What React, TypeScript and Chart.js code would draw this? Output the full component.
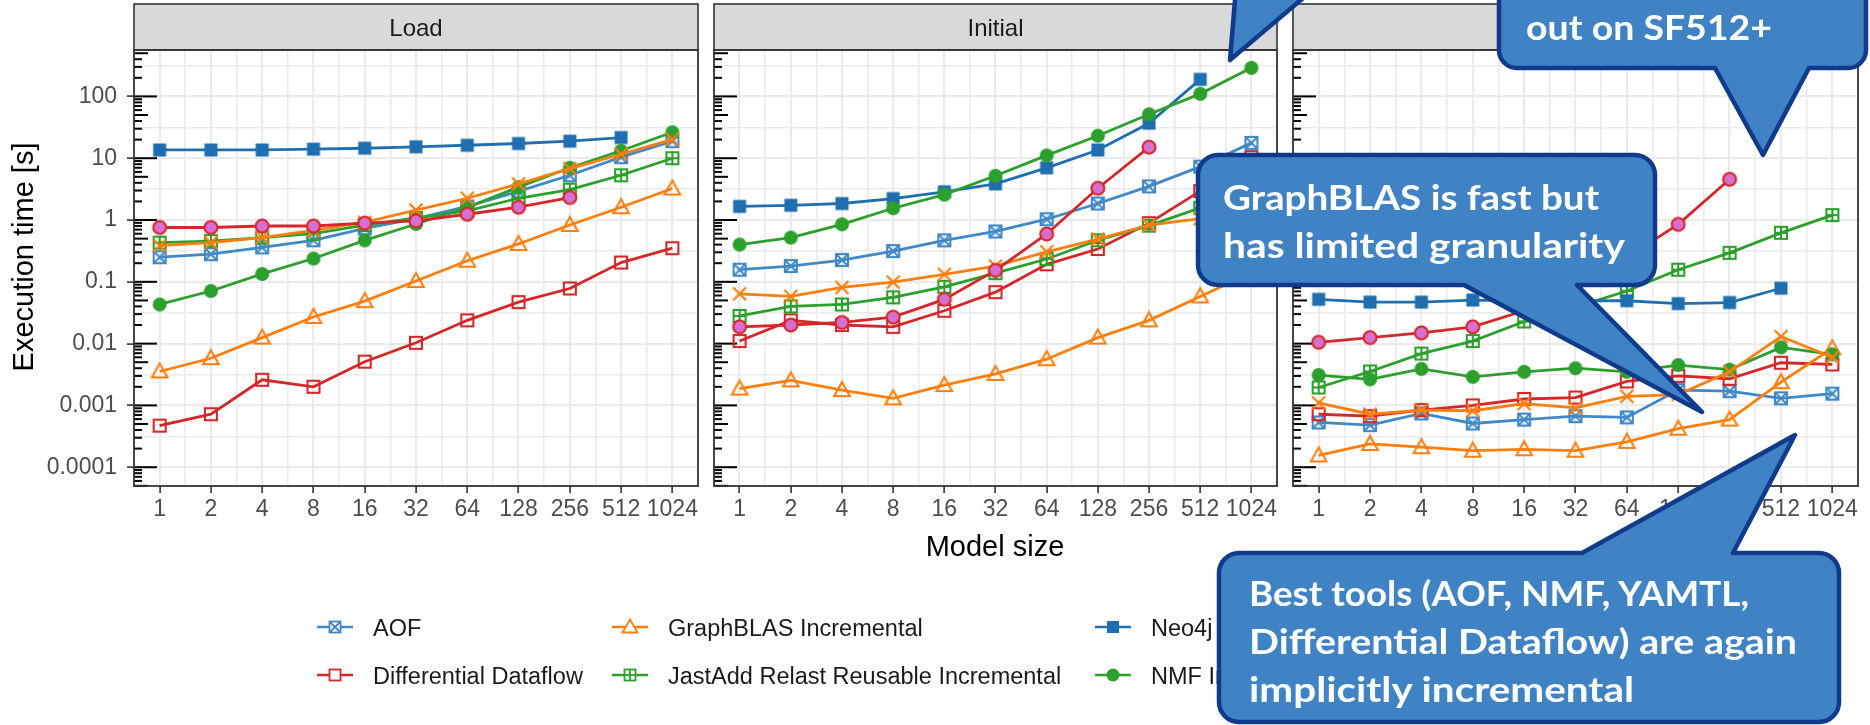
import React, { useEffect, useRef } from 'react';
import { Chart, registerables } from 'chart.js';

Chart.register(...registerables);

// ---------------- data ----------------
const MODEL_SIZES = [1, 2, 4, 8, 16, 32, 64, 128, 256, 512, 1024];
const PANEL_TITLES = ['Load', 'Initial', 'Update'];
const Y_TICK_LABELS = ['0.0001', '0.001', '0.01', '0.1', '1', '10', '100'];
const SERIES_NAMES = [
  'AOF',
  'Differential Dataflow',
  'GraphBLAS Incremental',
  'JastAdd Relast Reusable Incremental',
  'Neo4j Incremental',
  'NMF Incremental',
  'YAMTL Incremental',
  'Hawk Incremental',
];

const AOF_LOAD = [0.25, 0.28, 0.36, 0.47, 0.73, 1.05, 1.66, 2.9, 5.3, 10.4, 18.9];
const AOF_INITIAL = [0.157, 0.18, 0.225, 0.314, 0.469, 0.653, 1.03, 1.85, 3.5, 7.3, 17.7];
const AOF_UPDATE = [0.00053, 0.00048, 0.00074, 0.00051, 0.00059, 0.00067, 0.00064, 0.00177, 0.0017, 0.0013, 0.00155];

const DD_LOAD = [0.00047, 0.00072, 0.0026, 0.002, 0.0051, 0.0103, 0.0238, 0.047, 0.078, 0.205, 0.35];
const DD_INITIAL = [0.011, 0.0238, 0.02, 0.0187, 0.034, 0.068, 0.192, 0.34, 0.89, 2.94, 10.4];
const DD_UPDATE = [0.00072, 0.00067, 0.00084, 0.001, 0.00127, 0.00134, 0.00244, 0.003, 0.0027, 0.0049, 0.0046];

const GB_LOAD = [0.00354, 0.0058, 0.0125, 0.027, 0.0487, 0.103, 0.219, 0.41, 0.83, 1.61, 3.23];
const GB_INITIAL = [0.00187, 0.00254, 0.00177, 0.0013, 0.00213, 0.00323, 0.0056, 0.0125, 0.0238, 0.058, 0.14];
const GB_UPDATE = [0.000155, 0.000238, 0.000211, 0.000185, 0.000195, 0.000185, 0.000257, 0.00042, 0.00059, 0.00238, 0.0084];

const JA_LOAD = [0.43, 0.456, 0.52, 0.6, 0.83, 1.08, 1.41, 2.25, 3.1, 5.3, 10];
const JA_INITIAL = [0.028, 0.04, 0.043, 0.056, 0.083, 0.138, 0.234, 0.47, 0.81, 1.57, 3.0];
const JA_UPDATE = [0.00195, 0.00354, 0.0069, 0.011, 0.0228, 0.039, 0.071, 0.157, 0.294, 0.62, 1.2];

const NEO_LOAD = [13.6, 13.6, 13.6, 14.0, 14.5, 15.3, 16.2, 17.3, 18.9, 21.6, null];
const NEO_INITIAL = [1.66, 1.73, 1.85, 2.22, 2.86, 3.84, 6.98, 13.6, 36.8, 189, null];
const NEO_UPDATE = [0.052, 0.047, 0.047, 0.0507, 0.049, 0.049, 0.0494, 0.0444, 0.0462, 0.0787, null];

const NMF_LOAD = [0.043, 0.071, 0.134, 0.238, 0.469, 0.863, 1.6, 3.4, 7.0, 13.2, 26.3];
const NMF_INITIAL = [0.4, 0.52, 0.85, 1.55, 2.57, 5.2, 11.1, 23.1, 51.4, 110, 290];
const NMF_UPDATE = [0.0031, 0.00264, 0.0039, 0.0029, 0.0035, 0.004, 0.0035, 0.0045, 0.0038, 0.0087, 0.0067];

const YAMTL_LOAD = [0.384, 0.43, 0.52, 0.68, 0.92, 1.45, 2.25, 3.84, 6.8, 11.6, 20.2];
const YAMTL_INITIAL = [0.064, 0.058, 0.081, 0.099, 0.132, 0.18, 0.306, 0.49, 0.83, 1.05, 1.4];
const YAMTL_UPDATE = [0.0011, 0.00072, 0.00084, 0.00082, 0.00107, 0.00091, 0.0014, 0.0015, 0.0035, 0.013, 0.006];

const HAWK_LOAD = [0.757, 0.757, 0.8, 0.8, 0.89, 0.97, 1.24, 1.61, 2.31, null, null];
const HAWK_INITIAL = [0.0187, 0.02, 0.022, 0.0268, 0.052, 0.153, 0.595, 3.27, 15.1, null, null];
const HAWK_UPDATE = [0.0105, 0.0125, 0.0149, 0.0187, 0.034, 0.09, 0.25, 0.85, 4.56, null, null];

// ---------------- styles / geometry ----------------
const W = 1870;
const H = 725;
const PANEL_X = [
  [134, 698],
  [714, 1277],
  [1293, 1858],
];
const STRIP_TOP = 4;
const PLOT_TOP = 50;
const PLOT_BOTTOM = 486;
const X_AXIS_H = 60;
const Y_MIN = Math.pow(10, -4.304);
const Y_MAX = Math.pow(10, 2.751);

const BLUE_LIGHT = '#4189C6';
const BLUE_DARK = '#1F6FB0';
const RED = '#D62728';
const ORANGE = '#FF7F0E';
const GREEN = '#2CA02C';
const PINK = '#D66FD0';
const GRID = '#EBEBEB';
const DARK = '#333333';
const CALLOUT_FILL = '#4083C5';
const CALLOUT_STROKE = '#103A8C';
const LINE_W = 2.8;
const MARK_W = 2.1;

type Series = { name: string; color: string; marker: string; values: (number | null)[][] };

const SERIES: Series[] = [
  { name: SERIES_NAMES[0], color: BLUE_LIGHT, marker: 'squareX', values: [AOF_LOAD, AOF_INITIAL, AOF_UPDATE] },
  { name: SERIES_NAMES[1], color: RED, marker: 'square', values: [DD_LOAD, DD_INITIAL, DD_UPDATE] },
  { name: SERIES_NAMES[2], color: ORANGE, marker: 'triangle', values: [GB_LOAD, GB_INITIAL, GB_UPDATE] },
  { name: SERIES_NAMES[3], color: GREEN, marker: 'squarePlus', values: [JA_LOAD, JA_INITIAL, JA_UPDATE] },
  { name: SERIES_NAMES[4], color: BLUE_DARK, marker: 'squareFilled', values: [NEO_LOAD, NEO_INITIAL, NEO_UPDATE] },
  { name: SERIES_NAMES[5], color: GREEN, marker: 'circle', values: [NMF_LOAD, NMF_INITIAL, NMF_UPDATE] },
  { name: SERIES_NAMES[6], color: ORANGE, marker: 'cross', values: [YAMTL_LOAD, YAMTL_INITIAL, YAMTL_UPDATE] },
  { name: SERIES_NAMES[7], color: RED, marker: 'circlePink', values: [HAWK_LOAD, HAWK_INITIAL, HAWK_UPDATE] },
];

// legend layout: 3 columns x 2 rows (visible part)
const LEGEND_COLS = [335, 630, 1113];
const LEGEND_ROWS = [627, 675];

function makeMarker(kind: string, color: string): HTMLCanvasElement {
  const c = document.createElement('canvas');
  c.width = 22;
  c.height = 22;
  const g = c.getContext('2d') as CanvasRenderingContext2D;
  g.translate(11, 11);
  g.strokeStyle = color;
  g.fillStyle = color;
  g.lineWidth = MARK_W;
  const h = 6;
  const seg = (a: number, b: number, c2: number, d: number) => {
    g.beginPath();
    g.moveTo(a, b);
    g.lineTo(c2, d);
    g.stroke();
  };
  if (kind === 'squareX') {
    g.strokeRect(-h, -h, 2 * h, 2 * h);
    seg(-h, -h, h, h);
    seg(-h, h, h, -h);
  } else if (kind === 'square') {
    g.strokeRect(-h, -h, 2 * h, 2 * h);
  } else if (kind === 'squarePlus') {
    g.strokeRect(-h, -h, 2 * h, 2 * h);
    seg(0, -h, 0, h);
    seg(-h, 0, h, 0);
  } else if (kind === 'squareFilled') {
    g.fillRect(-6.5, -6.5, 13, 13);
  } else if (kind === 'circle') {
    g.beginPath();
    g.arc(0, 0, 7, 0, Math.PI * 2);
    g.fill();
  } else if (kind === 'triangle') {
    g.beginPath();
    g.moveTo(0, -8);
    g.lineTo(7.8, 6);
    g.lineTo(-7.8, 6);
    g.closePath();
    g.stroke();
  } else if (kind === 'cross') {
    g.lineWidth = 2.3;
    seg(-6.5, -6.5, 6.5, 6.5);
    seg(-6.5, 6.5, 6.5, -6.5);
  } else if (kind === 'circlePink') {
    g.beginPath();
    g.arc(0, 0, 6.5, 0, Math.PI * 2);
    g.fillStyle = PINK;
    g.fill();
    g.stroke();
  }
  return c;
}

function KeyMarker({ kind, color, x, y }: { kind: string; color: string; x: number; y: number }) {
  const h = 5.5;
  const sw = 1.8;
  if (kind === 'squareX')
    return (
      <g stroke={color} strokeWidth={sw} fill="white">
        <rect x={x - h} y={y - h} width={2 * h} height={2 * h} />
        <line x1={x - h} y1={y - h} x2={x + h} y2={y + h} />
        <line x1={x - h} y1={y + h} x2={x + h} y2={y - h} />
      </g>
    );
  if (kind === 'square')
    return <rect x={x - h} y={y - h} width={2 * h} height={2 * h} stroke={color} strokeWidth={sw} fill="white" />;
  if (kind === 'squarePlus')
    return (
      <g stroke={color} strokeWidth={sw} fill="white">
        <rect x={x - h} y={y - h} width={2 * h} height={2 * h} />
        <line x1={x} y1={y - h} x2={x} y2={y + h} />
        <line x1={x - h} y1={y} x2={x + h} y2={y} />
      </g>
    );
  if (kind === 'squareFilled') return <rect x={x - 6} y={y - 6} width={12} height={12} fill={color} />;
  if (kind === 'circle') return <circle cx={x} cy={y} r={6.5} fill={color} />;
  if (kind === 'triangle')
    return (
      <polygon
        points={`${x},${y - 7.5} ${x + 7.5},${y + 5.5} ${x - 7.5},${y + 5.5}`}
        stroke={color}
        strokeWidth={sw}
        fill="white"
      />
    );
  return null;
}

function calloutPath(
  x1: number,
  y1: number,
  x2: number,
  y2: number,
  r: number,
  side: 'top' | 'bottom',
  a: number,
  b: number,
  tx: number,
  ty: number
): string {
  let d = `M ${x1 + r} ${y1} `;
  if (side === 'top') d += `L ${a} ${y1} L ${tx} ${ty} L ${b} ${y1} `;
  d += `L ${x2 - r} ${y1} A ${r} ${r} 0 0 1 ${x2} ${y1 + r} `;
  d += `L ${x2} ${y2 - r} A ${r} ${r} 0 0 1 ${x2 - r} ${y2} `;
  if (side === 'bottom') d += `L ${b} ${y2} L ${tx} ${ty} L ${a} ${y2} `;
  d += `L ${x1 + r} ${y2} A ${r} ${r} 0 0 1 ${x1} ${y2 - r} `;
  d += `L ${x1} ${y1 + r} A ${r} ${r} 0 0 1 ${x1 + r} ${y1} Z`;
  return d;
}

const logTicksPlugin = {
  id: 'logTicks',
  beforeDatasetsDraw(chart: any) {
    const { ctx, chartArea, scales } = chart;
    const y = scales.y;
    ctx.save();
    ctx.strokeStyle = '#000';
    ctx.lineWidth = 2;
    for (let e = -6; e <= 3; e++) {
      for (let k = 1; k <= 9; k++) {
        const v = k * Math.pow(10, e);
        if (v < y.min || v > y.max) continue;
        const py = y.getPixelForValue(v);
        const len = k === 1 ? 23 : k === 5 ? 14 : 8;
        ctx.beginPath();
        ctx.moveTo(chartArea.left, py);
        ctx.lineTo(chartArea.left + len, py);
        ctx.stroke();
      }
    }
    ctx.restore();
  },
};

function yLabelFor(v: number): string {
  for (const l of Y_TICK_LABELS) {
    if (Math.abs(Math.log10(Number(l)) - Math.log10(v)) < 1e-6) return l;
  }
  return '';
}

function buildConfig(i: number, markers: Record<string, HTMLCanvasElement>): any {
  const [pl, pr] = PANEL_X[i];
  const yw = i === 0 ? pl : 10;
  const datasets = SERIES.slice()
    .reverse()
    .map((s) => ({
      label: s.name,
      data: s.values[i]
        .map((v, k) => (v == null ? null : { x: Math.log2(MODEL_SIZES[k]), y: v }))
        .filter((p) => p !== null),
      borderColor: s.color,
      backgroundColor: s.color,
      borderWidth: LINE_W,
      pointStyle: markers[s.name],
      pointRadius: 6,
      pointHoverRadius: 6,
      tension: 0,
      fill: false,
    }));
  return {
    type: 'line',
    data: { datasets },
    options: {
      responsive: false,
      animation: false,
      events: [],
      layout: {
        autoPadding: false,
        padding: { left: pl - yw, right: W - pr, top: PLOT_TOP, bottom: H - PLOT_BOTTOM - X_AXIS_H },
      },
      plugins: { legend: { display: false }, tooltip: { enabled: false }, title: { display: false } },
      scales: {
        x: {
          type: 'linear',
          min: -0.5,
          max: 10.5,
          bounds: 'data',
          afterBuildTicks: (s: any) => {
            const t: any[] = [];
            for (let k = 0; k < MODEL_SIZES.length; k++) {
              t.push({ value: Math.log2(MODEL_SIZES[k]), mj: true });
              if (k < MODEL_SIZES.length - 1) t.push({ value: Math.log2(MODEL_SIZES[k]) + 0.5, mj: false });
            }
            s.ticks = t;
          },
          afterFit: (s: any) => {
            s.height = X_AXIS_H;
          },
          ticks: {
            autoSkip: false,
            maxRotation: 0,
            minRotation: 0,
            padding: 3,
            color: '#4D4D4D',
            font: { family: 'Liberation Sans', size: 23 },
            callback: (v: number) => {
              const k = MODEL_SIZES.findIndex((m) => Math.abs(Math.log2(m) - v) < 1e-6);
              return k >= 0 ? String(MODEL_SIZES[k]) : '';
            },
          },
          grid: {
            color: GRID,
            lineWidth: (c: any) => (c.tick && c.tick.mj ? 2.2 : 1.6),
            drawTicks: true,
            tickLength: 7,
            tickWidth: 1.6,
            tickColor: (c: any) => (c.tick && c.tick.mj ? DARK : 'rgba(0,0,0,0)'),
          },
          border: { display: false },
        },
        y: {
          type: 'logarithmic',
          min: Y_MIN,
          max: Y_MAX,
          bounds: 'data',
          afterBuildTicks: (s: any) => {
            const t: any[] = [];
            for (let e = -6; e <= 3; e++) {
              const v = Math.pow(10, e);
              if (v >= Y_MIN && v <= Y_MAX) t.push({ value: v, mj: true });
              const m = Math.pow(10, e + 0.5);
              if (m >= Y_MIN && m <= Y_MAX) t.push({ value: m, mj: false });
            }
            s.ticks = t;
          },
          afterFit: (s: any) => {
            s.width = yw;
          },
          ticks: {
            display: i === 0,
            autoSkip: false,
            padding: 10,
            color: '#4D4D4D',
            font: { family: 'Liberation Sans', size: 23 },
            callback: (v: number) => yLabelFor(v),
          },
          grid: {
            color: GRID,
            lineWidth: (c: any) => (c.tick && c.tick.mj ? 2.2 : 1.6),
            drawTicks: i === 0,
            tickLength: 7,
            tickWidth: 1.6,
            tickColor: (c: any) => (i === 0 && c.tick && c.tick.mj ? DARK : 'rgba(0,0,0,0)'),
          },
          border: { display: false },
        },
      },
    },
    plugins: [logTicksPlugin],
  };
}

export default function App() {
  const r0 = useRef<HTMLCanvasElement>(null);
  const r1 = useRef<HTMLCanvasElement>(null);
  const r2 = useRef<HTMLCanvasElement>(null);

  useEffect(() => {
    const markers: Record<string, HTMLCanvasElement> = {};
    SERIES.forEach((s) => (markers[s.name] = makeMarker(s.marker, s.color)));
    const charts: Chart[] = [];
    [r0, r1, r2].forEach((r, i) => {
      if (r.current) charts.push(new Chart(r.current, buildConfig(i, markers)));
    });
    return () => charts.forEach((c) => c.destroy());
  }, []);

  const canvasStyle: React.CSSProperties = { position: 'absolute', left: 0, top: 0, width: W, height: H };
  const legendSeries = SERIES.slice(0, 6);

  return (
    <div style={{ position: 'absolute', left: 0, top: 0, width: W, height: H, background: '#fff', overflow: 'hidden' }}>
      <canvas ref={r0} width={W} height={H} style={canvasStyle} />
      <canvas ref={r1} width={W} height={H} style={canvasStyle} />
      <canvas ref={r2} width={W} height={H} style={canvasStyle} />
      <svg width={W} height={H} style={{ position: 'absolute', left: 0, top: 0 }}>
        {/* strips and panel borders */}
        {PANEL_X.map(([l, r], i) => (
          <g key={'p' + i}>
            <rect x={l} y={STRIP_TOP} width={r - l} height={PLOT_TOP - STRIP_TOP} fill="#D9D9D9" stroke={DARK} strokeWidth={1.6} />
            <text
              x={(l + r) / 2}
              y={36}
              textAnchor="middle"
              fontFamily="Liberation Sans"
              fontSize={24}
              fill="#1A1A1A"
            >
              {PANEL_TITLES[i]}
            </text>
            <rect x={l} y={PLOT_TOP} width={r - l} height={PLOT_BOTTOM - PLOT_TOP} fill="none" stroke={DARK} strokeWidth={1.8} />
          </g>
        ))}
        {/* axis titles */}
        <text
          transform="translate(33,257) rotate(-90)"
          textAnchor="middle"
          fontFamily="Liberation Sans"
          fontSize={29}
          fill="#000"
        >
          Execution time [s]
        </text>
        <text x={995} y={556} textAnchor="middle" fontFamily="Liberation Sans" fontSize={29} fill="#000">
          Model size
        </text>
        {/* legend */}
        {legendSeries.map((s, k) => {
          const cx = LEGEND_COLS[Math.floor(k / 2)];
          const cy = LEGEND_ROWS[k % 2];
          return (
            <g key={'l' + k}>
              <line x1={cx - 18} y1={cy} x2={cx + 18} y2={cy} stroke={s.color} strokeWidth={2.4} />
              <KeyMarker kind={s.marker} color={s.color} x={cx} y={cy} />
              <text x={cx + 38} y={cy + 8.5} fontFamily="Liberation Sans" fontSize={23.5} fill="#1A1A1A">
                {s.name}
              </text>
            </g>
          );
        })}
        {/* callouts */}
        <g fill={CALLOUT_FILL} stroke={CALLOUT_STROKE} strokeWidth={4.5} strokeLinejoin="round">
          <path d={calloutPath(1000, -160, 1420, -12, 20, 'bottom', 1236, 1315, 1230, 60)} />
          <path d={calloutPath(1499, -90, 1866, 68, 18, 'bottom', 1715, 1809, 1763, 155)} />
          <path d={calloutPath(1198, 155, 1655, 285, 20, 'bottom', 1464, 1577, 1702, 412)} />
          <path d={calloutPath(1219, 553, 1839, 722, 20, 'top', 1582, 1733, 1795, 435)} />
        </g>
        <g fontFamily="Lato" fontWeight={700} fontSize={35} fill="#FFFFFF">
          <text x={1526} y={40} textLength={246} lengthAdjust="spacingAndGlyphs">
            out on SF512+
          </text>
          <text x={1223} y={210} textLength={376} lengthAdjust="spacingAndGlyphs">
            GraphBLAS is fast but
          </text>
          <text x={1223} y={258} textLength={402} lengthAdjust="spacingAndGlyphs">
            has limited granularity
          </text>
          <text x={1249} y={606} textLength={500} lengthAdjust="spacingAndGlyphs">
            Best tools (AOF, NMF, YAMTL,
          </text>
          <text x={1249} y={654} textLength={548} lengthAdjust="spacingAndGlyphs">
            Differential Dataflow) are again
          </text>
          <text x={1249} y={702} textLength={385} lengthAdjust="spacingAndGlyphs">
            implicitly incremental
          </text>
        </g>
      </svg>
    </div>
  );
}
